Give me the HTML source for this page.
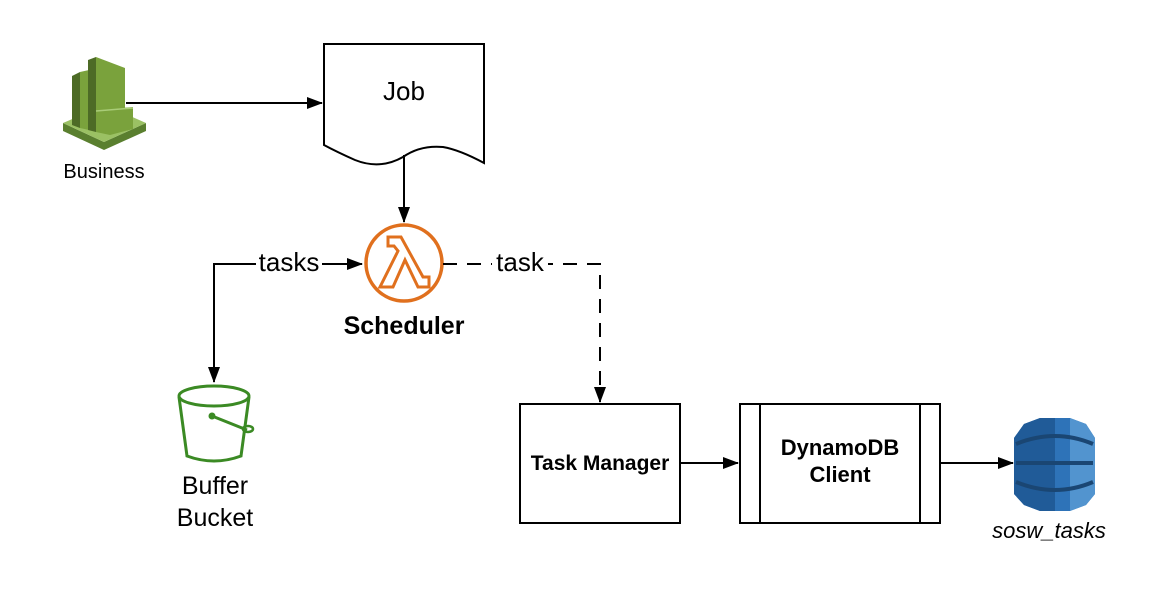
<!DOCTYPE html>
<html><head><style>body{margin:0;background:#fff}svg{display:block}</style></head><body>
<svg width="1149" height="604" viewBox="0 0 1149 604" xmlns="http://www.w3.org/2000/svg" font-family="Liberation Sans, sans-serif">
<defs><marker id="b" markerWidth="16" markerHeight="12" refX="15" refY="6" orient="auto" markerUnits="userSpaceOnUse"><path d="M0,0 L16,6 L0,12 z" fill="#000"/></marker></defs>
<!-- Business icon -->
<polygon points="63,123 104,142 146,123 146,131 104,150 63,131" fill="#5a7f2f"/>
<polygon points="63,123 104,142 146,123 105,105" fill="#9bc164"/>
<polygon points="72,76 80,72 80,128 72,125" fill="#4d6b26"/>
<polygon points="80,72 89,70 89,130 80,128" fill="#7aa23c"/>
<polygon points="88,60 96,57 96,132 88,130" fill="#4d6b26"/>
<polygon points="96,57 125,68 125,126 96,132" fill="#7aa23c"/>
<polygon points="96,110 133,107 133,129 110,135 96,132" fill="#7aa23c"/>
<line x1="96" y1="111" x2="133" y2="108" stroke="#a9cc78" stroke-width="1.5"/>
<text x="104" y="178" font-size="20" text-anchor="middle">Business</text>
<line x1="126" y1="103" x2="322" y2="103" stroke="#000" stroke-width="2" marker-end="url(#b)"/>
<!-- Job -->
<path d="M324,44 H484 V163 Q460,150 443,147 Q420,145 403,157 Q380,170 355,160 Q337,152 324,145 Z" fill="#fff" stroke="#000" stroke-width="2"/>
<text x="404" y="100" font-size="26" text-anchor="middle">Job</text>
<line x1="404" y1="155" x2="404" y2="222" stroke="#000" stroke-width="2" marker-end="url(#b)"/>
<!-- Lambda -->
<circle cx="404" cy="263" r="38" fill="#fff" stroke="#e0701e" stroke-width="3.5"/>
<path d="M388,237 H401 L423,277 H429 V287 H418 L405,260 L393,287 H380 L398,251 L394,246 H388 Z" fill="none" stroke="#e0701e" stroke-width="3" stroke-linejoin="miter"/>
<text x="404" y="334" font-size="25" font-weight="bold" text-anchor="middle">Scheduler</text>
<!-- tasks -->
<polyline points="214,361 214,264 362,264" fill="none" stroke="#000" stroke-width="2" marker-end="url(#b)"/>
<rect x="256" y="250" width="66" height="26" fill="#fff"/>
<text x="289" y="271" font-size="26" text-anchor="middle">tasks</text>
<polyline points="443,264 600,264 600,402" fill="none" stroke="#000" stroke-width="2" stroke-dasharray="14,10" marker-end="url(#b)"/>
<rect x="492" y="250" width="56" height="26" fill="#fff"/>
<text x="520" y="271" font-size="26" text-anchor="middle">task</text>
<!-- Bucket -->
<line x1="214" y1="361" x2="214" y2="382" stroke="#000" stroke-width="2" marker-end="url(#b)"/>
<ellipse cx="214" cy="396" rx="35" ry="10" fill="none" stroke="#3b8a24" stroke-width="3"/>
<path d="M179,397 L187,456 Q214,466 241,456 L249,397" fill="none" stroke="#3b8a24" stroke-width="3"/>
<line x1="212" y1="416" x2="247" y2="430" stroke="#3b8a24" stroke-width="3"/>
<ellipse cx="248" cy="429" rx="5" ry="3" fill="none" stroke="#3b8a24" stroke-width="2.5"/>
<circle cx="212" cy="416" r="3.5" fill="#3b8a24"/>
<text x="215" y="494" font-size="25" text-anchor="middle">Buffer</text>
<text x="215" y="526" font-size="25" text-anchor="middle">Bucket</text>
<!-- Task manager -->
<rect x="520" y="404" width="160" height="119" fill="#fff" stroke="#000" stroke-width="2"/>
<text x="600" y="470" font-size="21" font-weight="bold" text-anchor="middle">Task Manager</text>
<line x1="680" y1="463" x2="738" y2="463" stroke="#000" stroke-width="2" marker-end="url(#b)"/>
<rect x="740" y="404" width="200" height="119" fill="#fff" stroke="#000" stroke-width="2"/>
<line x1="760" y1="404" x2="760" y2="523" stroke="#000" stroke-width="2"/>
<line x1="920" y1="404" x2="920" y2="523" stroke="#000" stroke-width="2"/>
<text x="840" y="455" font-size="22" font-weight="bold" text-anchor="middle">DynamoDB</text>
<text x="840" y="482" font-size="22" font-weight="bold" text-anchor="middle">Client</text>
<line x1="940" y1="463" x2="1013" y2="463" stroke="#000" stroke-width="2" marker-end="url(#b)"/>
<!-- DynamoDB icon -->
<path d="M1024,424 L1040,418 H1070 L1086,424 L1095,438 V494 L1086,505 L1070,511 H1040 L1024,505 L1014,494 V438 Z" fill="#2e73b8"/>
<path d="M1040,418 H1055 V511 H1040 L1024,505 L1014,494 V438 L1024,424 Z" fill="#205b98"/>
<path d="M1070,418 L1086,424 L1095,438 V494 L1086,505 L1070,511 Z" fill="#5294cf"/>
<path d="M1016,444 Q1055,428 1093,444" fill="none" stroke="#1a4673" stroke-width="4"/>
<path d="M1016,463 H1093" fill="none" stroke="#1a4673" stroke-width="4"/>
<path d="M1016,482 Q1055,498 1093,482" fill="none" stroke="#1a4673" stroke-width="4"/>
<text x="1049" y="538" font-size="22" font-style="italic" text-anchor="middle">sosw_tasks</text>
</svg>
</body></html>
